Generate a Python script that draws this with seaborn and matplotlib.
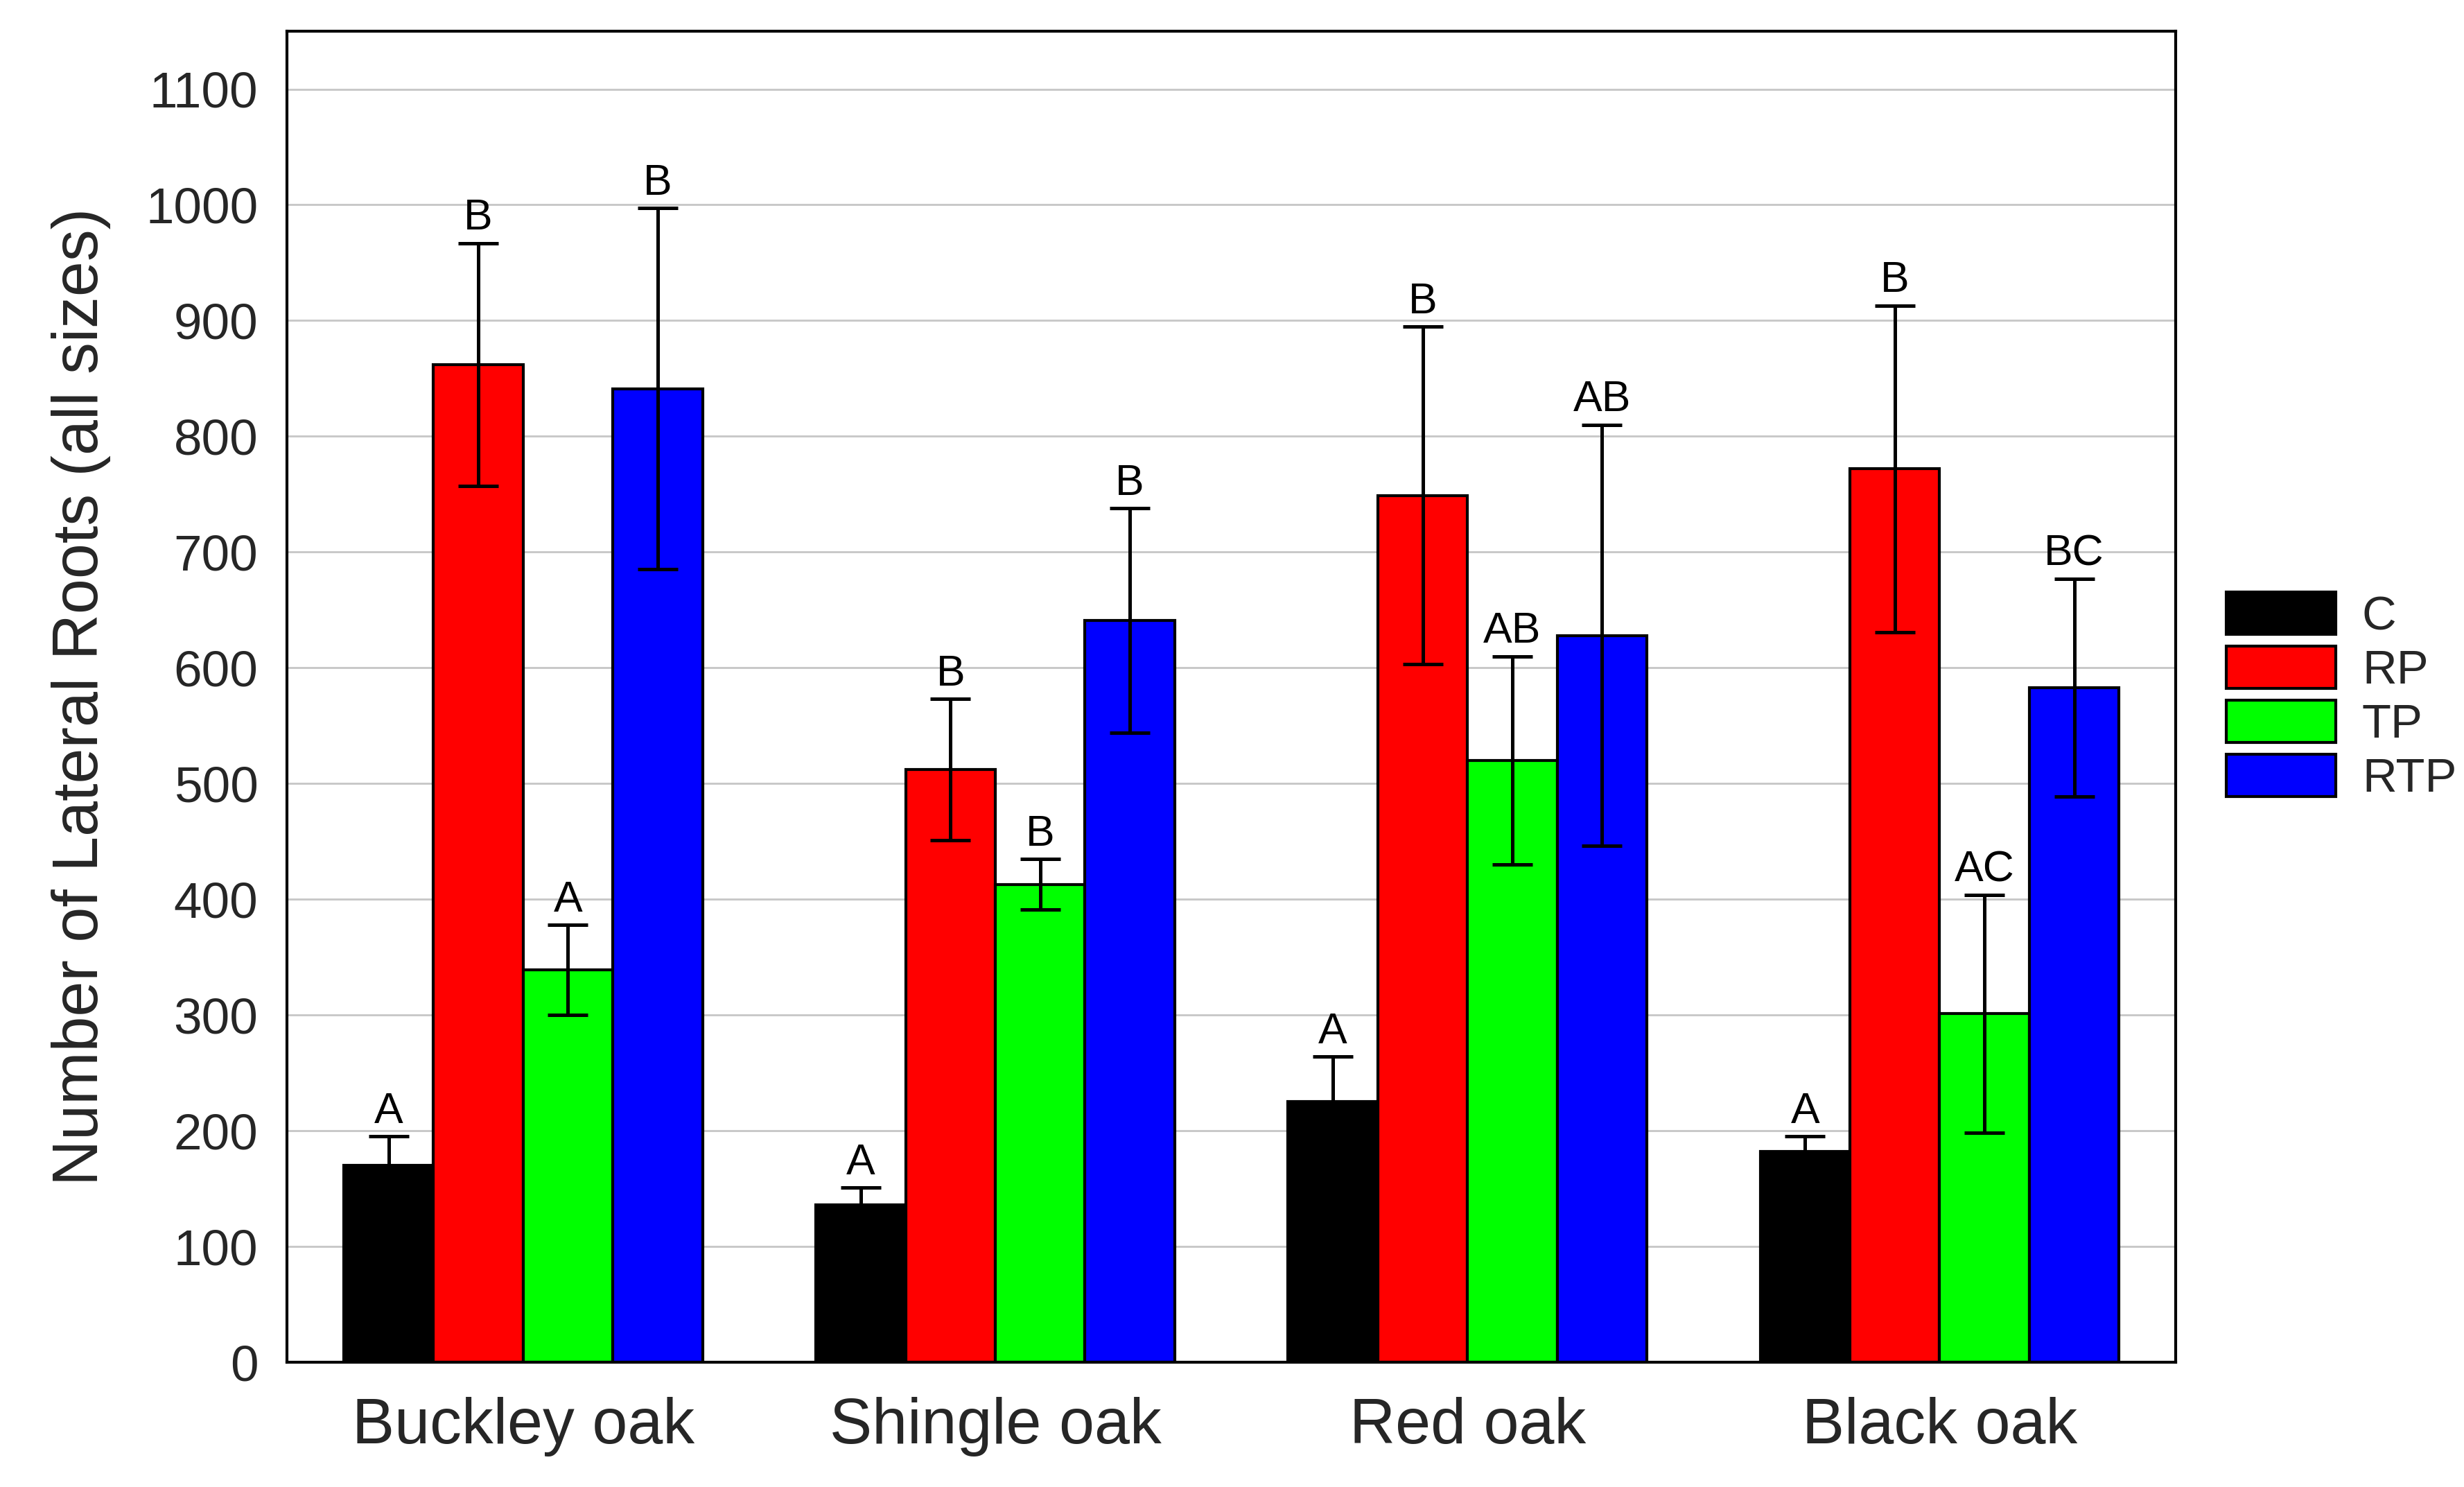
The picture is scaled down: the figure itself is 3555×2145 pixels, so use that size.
import matplotlib
matplotlib.use('Agg')
import matplotlib.pyplot as plt
import pandas as pd
import numpy as np
import seaborn as sns

# Especies e tratamentos
species = ['Buckley oak', 'Shingle oak', 'Red oak', 'Black oak']
treatments = ['C', 'RP', 'TP', 'RTP']
colors = ['#000000', '#ff0000', '#00ff00', '#0000ff']

# Medias por tratamento (na ordem das especies)
mean_c = [170, 136, 225, 182]
mean_rp = [862, 512, 749, 772]
mean_tp = [339, 413, 520, 301]
mean_rtp = [841, 641, 628, 583]

# Erro padrao
err_c = [25, 15, 39, 13]
err_rp = [105, 61, 146, 141]
err_tp = [39, 22, 90, 103]
err_rtp = [156, 97, 182, 94]

# Letras de significancia
letters_c = ['A', 'A', 'A', 'A']
letters_rp = ['B', 'B', 'B', 'B']
letters_tp = ['A', 'B', 'AB', 'AC']
letters_rtp = ['B', 'B', 'AB', 'BC']

means = [mean_c, mean_rp, mean_tp, mean_rtp]
errs = [err_c, err_rp, err_tp, err_rtp]
letters = [letters_c, letters_rp, letters_tp, letters_rtp]

rows = []
for t, m in zip(treatments, means):
    for s, v in zip(species, m):
        rows.append({'Species': s, 'Treatment': t, 'Roots': v})
df = pd.DataFrame(rows)

sns.set_style('white')
plt.rcParams['font.family'] = ['Liberation Sans', 'DejaVu Sans']

fig = plt.figure(figsize=(3555 / 300, 2145 / 300), dpi=300)
ax = fig.add_axes([0.1165, 0.0839, 0.883 - 0.1165, 0.979 - 0.0839])

sns.barplot(data=df, x='Species', y='Roots', hue='Treatment', order=species,
            hue_order=treatments, palette=colors, width=0.76, saturation=1,
            edgecolor='black', linewidth=1.0, errorbar=None, legend=False, ax=ax)

bar_conts = list(ax.containers)

# Barras de erro e letras - Error bars and letters
for i, cont in enumerate(bar_conts):
    for j, bar in enumerate(cont.patches):
        x = bar.get_x() + bar.get_width() / 2
        h = bar.get_height()
        e = errs[i][j]
        ax.errorbar(x, h, yerr=e, fmt='none', ecolor='black', elinewidth=1.2,
                    capsize=7, capthick=1.2, zorder=5)
        ax.annotate(letters[i][j], (x, h + e), xytext=(0, 1.5), textcoords='offset points',
                    ha='center', va='bottom', fontsize=15, color='black')

ax.set_ylim(0, 1150)
ax.set_xlim(-0.5, 3.5)
ax.set_yticks(np.arange(0, 1101, 100))
ax.yaxis.grid(True, color='#c8c8c8', linewidth=0.7)
ax.set_axisbelow(True)
ax.tick_params(axis='both', length=0)
ax.tick_params(axis='y', labelsize=17.5, pad=10)
ax.tick_params(axis='x', labelsize=22, pad=12)
ax.set_xlabel('')
ax.set_ylabel('Number of Lateral Roots (all sizes)', fontsize=22, labelpad=12)
for sp in ax.spines.values():
    sp.set_visible(True)
    sp.set_color('black')
    sp.set_linewidth(1.0)

fig.legend(handles=bar_conts, labels=treatments, loc='upper left',
           bbox_to_anchor=(0.9035, 0.602), frameon=False, fontsize=16.5,
           handlelength=2.3, handleheight=1.0, labelspacing=0.14,
           handletextpad=0.55, borderpad=0, borderaxespad=0)

fig.savefig('out.png', dpi=300)
